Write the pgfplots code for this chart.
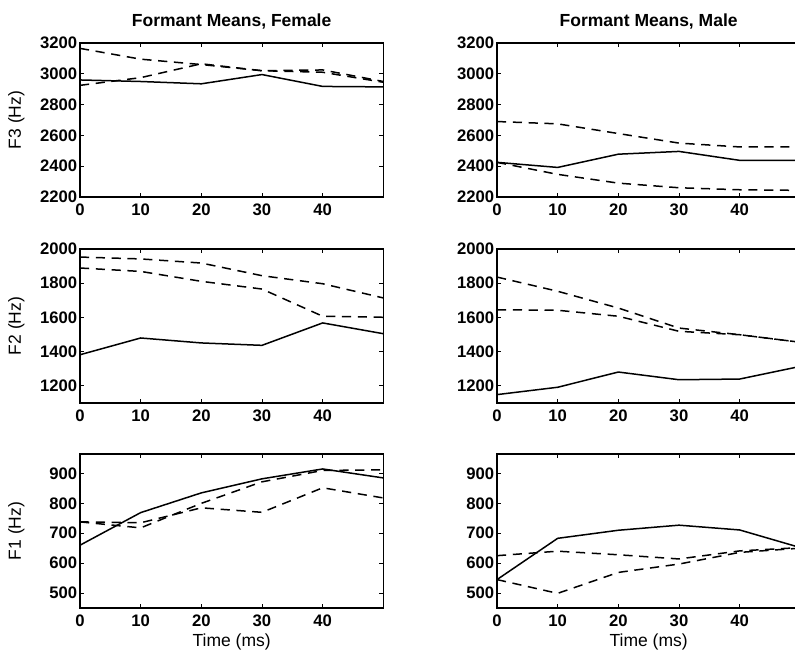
\documentclass[border=0pt]{standalone}
\usepackage{pgfplots}
\usepackage{pgfplotstable}
\pgfplotsset{compat=1.18}
\usepackage{fontspec}
\setmainfont{Liberation Sans}

% Formant means (Hz) at 0..50 ms: solid = s, dashed = a, b
\pgfplotstableread{
t  s    a    b
0  2960 3165 2925
10 2950 3095 2975
20 2935 3060 3065
30 2995 3020 3020
40 2918 3010 3025
50 2915 2945 2950
}\femThree
\pgfplotstableread{
t  s    a    b
0  2425 2690 2425
10 2392 2675 2347
20 2478 2612 2290
30 2496 2550 2260
40 2438 2525 2247
50 2438 2525 2243
}\maleThree
\pgfplotstableread{
t  s    a    b
0  1382 1953 1889
10 1480 1942 1869
20 1451 1918 1811
30 1437 1844 1766
40 1568 1797 1607
50 1505 1714 1601
}\femTwo
\pgfplotstableread{
t  s    a    b
0  1149 1836 1645
10 1192 1753 1642
20 1281 1655 1607
30 1236 1538 1519
40 1240 1499 1499
50 1314 1455 1455
}\maleTwo
\pgfplotstableread{
t  s   a   b
0  660 738 738
10 769 735 718
20 835 785 800
30 882 770 872
40 915 852 910
50 885 818 912
}\femOne
\pgfplotstableread{
t  s   a   b
0  545 625 545
10 683 640 499
20 710 628 569
30 727 614 597
40 711 641 636
50 652 652 650
}\maleOne

\pgfplotsset{
  formant/.style={
    scale only axis, width=182pt, height=92.4pt,
    anchor=south west,
    xmin=0, xmax=50, xtick={0,10,20,30,40},
    tick align=inside, major tick length=2.5pt,
    axis line style={line width=1pt},
    tick style={line width=0.6pt, black},
    /pgf/number format/assume math mode=true,
    /pgf/number format/1000 sep={},
    tick label style={font=\fontsize{10}{12}\selectfont\bfseries},
    yticklabel style={inner xsep=1.5pt},
    xticklabel style={yshift=-0.5pt},
    label style={font=\fontsize{10.5}{12}\selectfont},
    ylabel style={at={(axis description cs:-0.21,0.5)}, anchor=center, rotate=0},
    xlabel style={at={(axis description cs:0.5,0)}, anchor=center, yshift=-20.5pt},
    title style={font=\fontsize{10.5}{12}\selectfont\bfseries, at={(axis description cs:0.5,1)}, anchor=center, yshift=6.6pt},
    every axis plot/.append style={line width=0.9pt, black},
  },
  sol/.style={solid},
  dsh/.style={dash pattern=on 5.5pt off 4pt},
}

\begin{document}
\begin{tikzpicture}
% top row: F3
\begin{axis}[formant, at={(48pt,276pt)}, ymin=2200, ymax=3200,
  ytick={2200,2400,...,3200}, ylabel={F3 (Hz)}, title={Formant Means, Female}]
  \addplot[sol] table[x=t,y=s] {\femThree};
  \addplot[dsh] table[x=t,y=a] {\femThree};
  \addplot[dsh] table[x=t,y=b] {\femThree};
\end{axis}
\begin{axis}[formant, at={(298.2pt,276pt)}, ymin=2200, ymax=3200,
  ytick={2200,2400,...,3200}, title={Formant Means, Male}]
  \addplot[sol] table[x=t,y=s] {\maleThree};
  \addplot[dsh] table[x=t,y=a] {\maleThree};
  \addplot[dsh] table[x=t,y=b] {\maleThree};
\end{axis}
% middle row: F2
\begin{axis}[formant, at={(48pt,152.4pt)}, ymin=1100, ymax=2000,
  ytick={1200,1400,...,2000}, ylabel={F2 (Hz)}]
  \addplot[sol] table[x=t,y=s] {\femTwo};
  \addplot[dsh] table[x=t,y=a] {\femTwo};
  \addplot[dsh] table[x=t,y=b] {\femTwo};
\end{axis}
\begin{axis}[formant, at={(298.2pt,152.4pt)}, ymin=1100, ymax=2000,
  ytick={1200,1400,...,2000}]
  \addplot[sol] table[x=t,y=s] {\maleTwo};
  \addplot[dsh] table[x=t,y=a] {\maleTwo};
  \addplot[dsh] table[x=t,y=b] {\maleTwo};
\end{axis}
% bottom row: F1
\begin{axis}[formant, at={(48pt,29.4pt)}, ymin=450, ymax=965,
  ytick={500,600,...,900}, ylabel={F1 (Hz)}, xlabel={Time (ms)}]
  \addplot[sol] table[x=t,y=s] {\femOne};
  \addplot[dsh] table[x=t,y=a] {\femOne};
  \addplot[dsh] table[x=t,y=b] {\femOne};
\end{axis}
\begin{axis}[formant, at={(298.2pt,29.4pt)}, ymin=450, ymax=965,
  ytick={500,600,...,900}, xlabel={Time (ms)}]
  \addplot[sol] table[x=t,y=s] {\maleOne};
  \addplot[dsh] table[x=t,y=a] {\maleOne};
  \addplot[dsh] table[x=t,y=b] {\maleOne};
\end{axis}
\pgfresetboundingbox
\useasboundingbox (0,0) rectangle (477pt,394.2pt);
\end{tikzpicture}
\end{document}
